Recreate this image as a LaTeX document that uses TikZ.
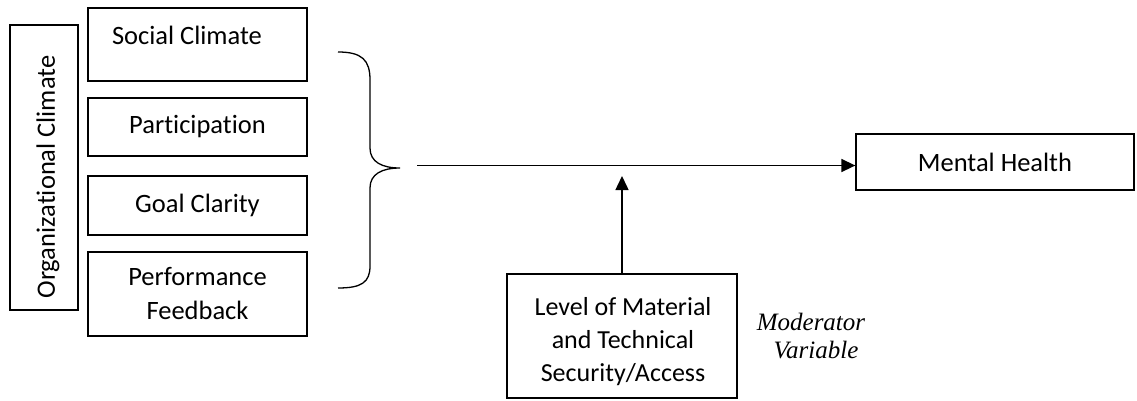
\documentclass[tikz,border=0pt]{standalone}
\usepackage{fontspec}
\setmainfont{Carlito}[Ligatures=NoCommon]
\newfontfamily\modfont{Liberation Serif}
\usetikzlibrary{arrows.meta}
\tikzset{
  box/.style={draw, line width=1.3pt, inner sep=0pt},
  lbl/.style={inner sep=0pt, align=center, font=\fontsize{26.5}{34}\selectfont},
  mod/.style={inner sep=0pt, font=\modfont\itshape\fontsize{25}{28}\selectfont},
  conn/.style={line width=1.5pt, -{Triangle[length=14pt,width=13pt]}},
  brace/.style={line width=1.3pt}
}
\begin{document}
\begin{tikzpicture}[x=1pt,y=-1pt]
\useasboundingbox (0,0) rectangle (1137,400);
% left group
\node[box, minimum width=68pt, minimum height=285pt] (org) at (44,167.5) {};
\node[lbl, rotate=90] (orgt) at (48,177) {Organizational Climate};
\node[box, minimum width=219pt, minimum height=73pt] (soc) at (197.5,44.5) {};
\node[lbl] (soct) at (187,35) {Social Climate};
\node[box, lbl, minimum width=219pt, minimum height=58pt] (par) at (197.5,127) {Participation};
\node[box, lbl, minimum width=219pt, minimum height=59pt] (goal) at (197.5,205.5) {Goal Clarity};
\node[box, lbl, minimum width=219pt, minimum height=84pt] (perf) at (197.5,294) {Performance\\Feedback};
% brace
\draw[brace] (338,52) .. controls (362,52) and (370,60) .. (370,80) -- (370,148)
  .. controls (370,162) and (382,168) .. (400,168)
  .. controls (382,168) and (370,174) .. (370,188) -- (370,266)
  .. controls (370,282) and (362,288) .. (338,288);
% outcome
\node[box, lbl, minimum width=278pt, minimum height=56pt] (mh) at (995,162) {Mental Health};
\coordinate (start) at (417,165.5);
\draw[conn] (start) -- (mh.west |- start);
% moderator
\node[box, minimum width=230pt, minimum height=124pt] (modbox) at (622,336) {};
\node[lbl, font=\fontsize{26}{33}\selectfont] (modt) at (623,342) {Level of Material\\and Technical\\Security/Access};
\coordinate (hit) at (622,176);
\draw[conn] (modbox.north) -- (hit);
\node[mod] (modv1) at (811,322) {Moderator};
\node[mod] (modv2) at (816,350) {Variable};
\end{tikzpicture}
\end{document}
